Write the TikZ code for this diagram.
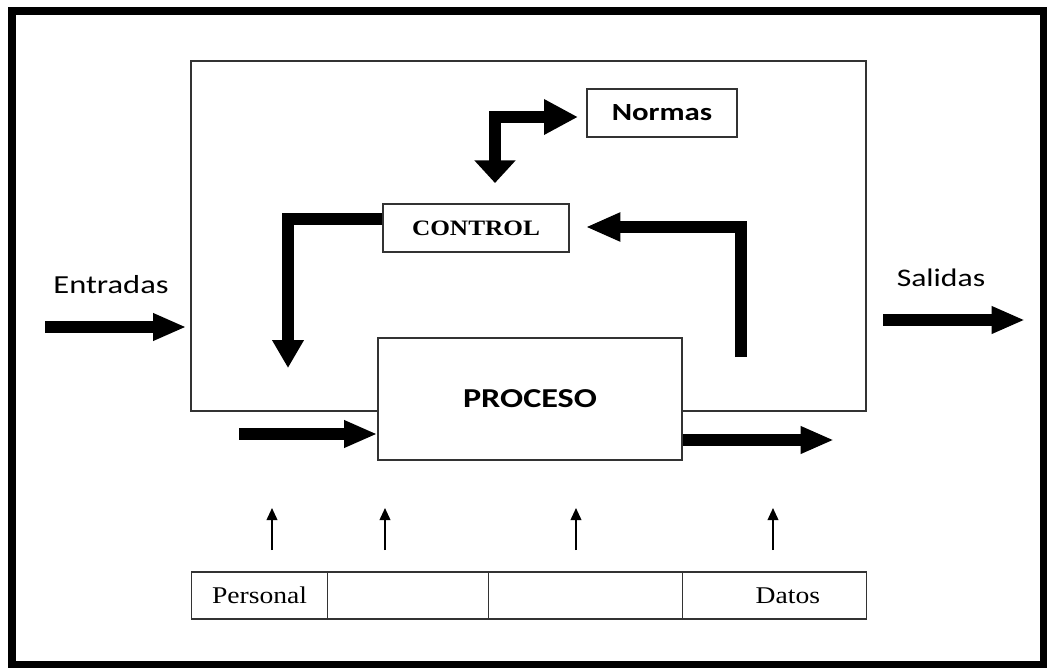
\documentclass[tikz,border=0pt]{standalone}
\usepackage{fontspec}
\newfontfamily\calibri[FakeStretch=1.25]{Carlito}
\newfontfamily\romana[FakeStretch=1.15]{Liberation Serif}
\usetikzlibrary{arrows.meta}
\tikzset{
	caja/.style={draw=black!80, line width=0.9pt, inner sep=0pt, fill=white},
	celda/.style={caja, minimum height=35.25pt, anchor=west, font={\romana\fontsize{18}{20}\selectfont}},
	grueso/.style={line width=8.5pt, line join=miter, -{Triangle[length=25pt,width=19pt]}},
	fino/.style={line width=1.2pt, -{Triangle[length=9pt,width=8pt]}},
}
\begin{document}
\begin{tikzpicture}[x=0.75pt,y=0.75pt,yscale=-1,xscale=1]
	\path[use as bounding box] (0,0) rectangle (1047,668);
	
	%Marco exterior
	\draw [line width=6pt] (12,11) rectangle (1044,665);
	
	%Sistema
	\node [caja, minimum width=506.25pt, minimum height=262.5pt] (sistema) at (528.5,236) {};
	%Normas
	\node [caja, minimum width=112.5pt, minimum height=36pt, font={\calibri\bfseries\fontsize{18.5}{22}\selectfont}] (normas) at (662,113) {Normas};
	%Control
	\node [caja, minimum width=139.5pt, minimum height=36pt, font={\romana\bfseries\fontsize{16.5}{20}\selectfont}] (control) at (476,228) {CONTROL};
	%Proceso
	\node [caja, minimum width=228pt, minimum height=91.5pt, font={\calibri\bfseries\fontsize{20.5}{24}\selectfont}] (proceso) at (530,399) {PROCESO};
	
	%Recursos
	\node [celda, minimum width=102pt] (personal) at (191,595.5) {Personal};
	\node [celda, minimum width=120.75pt] (recurso2) at (327,595.5) {};
	\node [celda, minimum width=145.5pt] (recurso3) at (488,595.5) {};
	\node [celda, minimum width=138pt] (datos) at (682,595.5) {\hspace{20pt}Datos};
	
	% Text Node
	\node [font={\calibri\fontsize{19.5}{22}\selectfont}] (entradas) at (111,285) {Entradas};
	% Text Node
	\node [font={\calibri\fontsize{19}{22}\selectfont}] (salidas) at (941,278) {Salidas};
	
	%Flechas gruesas
	\coordinate (entra) at (45,327);
	\draw [grueso] (entra) -- ([xshift=-3pt]entra -| sistema.west);
	\coordinate (sale) at (883,320);
	\coordinate (saleB) at (1025,320);
	\draw [grueso] (sale) -- (saleB);
	\coordinate (insumo) at (239,434);
	\draw [grueso] (insumo) -- (insumo -| proceso.west);
	\coordinate (producto) at (834,440);
	\draw [grueso] (proceso.east |- producto) -- (producto);
	
	%Retroalimentacion
	\coordinate (retro) at (288,368);
	\draw [grueso, -{Triangle[length=21pt,width=22.5pt]}] ([yshift=-6.75pt]control.west) -| (retro);
	\coordinate (medida) at (741,357);
	\draw [grueso, -{Triangle[length=26pt,width=20pt]}] (medida) |- ([xshift=12pt,yshift=-0.75pt]control.east);
	\coordinate (normaA) at (578,117);
	\coordinate (normaB) at (495,183);
	\draw [grueso, line width=9pt, {Triangle[length=25.5pt,width=25pt]}-{Triangle[length=17pt,width=30pt]}] (normaA) -| (normaB);
	
	%Flechas finas
	\foreach \x in {272,385,576,773}
		\draw [fino] (\x,550) -- (\x,508);
\end{tikzpicture}
\end{document}
